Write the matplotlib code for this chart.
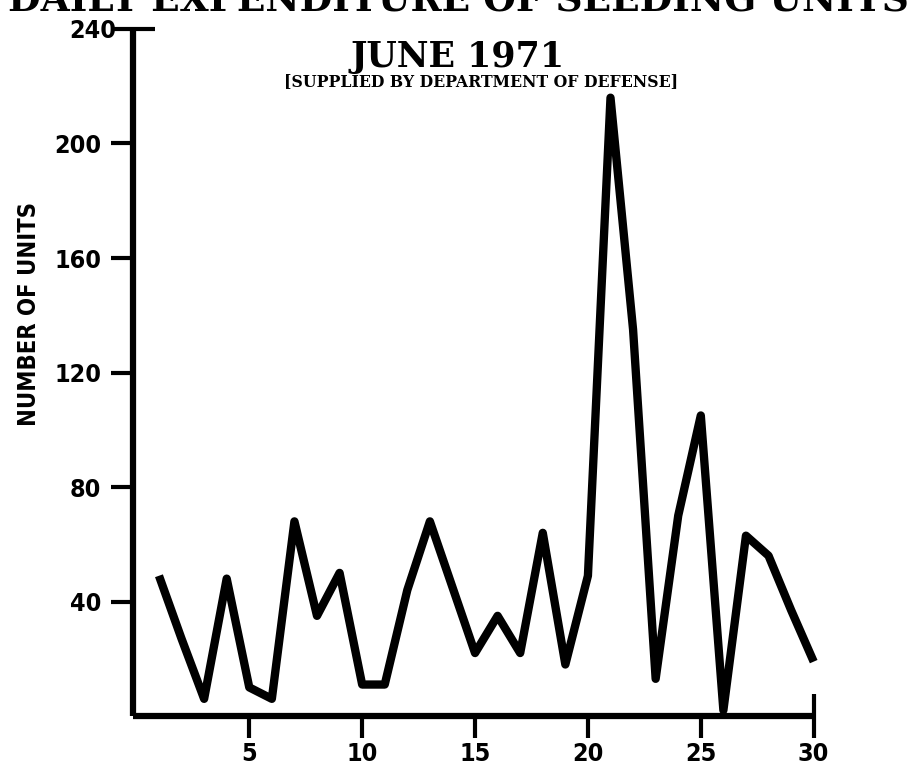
import matplotlib.pyplot as plt

days = list(range(1, 31))
units = [49, 27, 6, 48, 10, 6, 68, 35, 50, 11, 11, 44, 68, 45, 22,
         35, 22, 64, 18, 49, 216, 135, 13, 70, 105, 2, 63, 56, 37, 19]

xticks = [5, 10, 15, 20, 25]
yticks = [40, 80, 120, 160, 200]

tick_font = ["DejaVu Sans"]
head_font = ["DejaVu Serif"]

fig = plt.figure(figsize=(9.16, 7.71), dpi=100)
ax = fig.add_axes([0.1452, 0.0713, 0.7468, 0.8911])

ax.plot(days, units, color="black", lw=6, solid_joinstyle="round",
        solid_capstyle="butt", clip_on=False)

ax.set_xlim(-0.15, 30.15)
ax.set_ylim(0, 240)

for s in ["top", "right"]:
    ax.spines[s].set_visible(False)
for s in ["left", "bottom"]:
    ax.spines[s].set_linewidth(4.5)
    ax.spines[s].set_capstyle("butt")
ax.spines["bottom"].set_bounds(-0.15, 30)

ax.set_xticks(xticks)
ax.set_xticklabels([str(t) for t in xticks])
ax.set_xticks([30], minor=True)
ax.set_xticklabels(["30"], minor=True)
ax.set_yticks(yticks)
ax.set_yticklabels([str(t) for t in yticks])
ax.set_yticks([240], minor=True)
ax.set_yticklabels(["240"], minor=True)

ax.tick_params(axis="both", which="major", direction="out", length=16,
               width=3, color="black")
ax.tick_params(axis="both", which="minor", direction="inout", length=32,
               width=3, color="black")
ax.tick_params(axis="x", which="both", pad=3)
ax.tick_params(axis="y", which="major", pad=7)
ax.tick_params(axis="y", which="minor", pad=-4)

for lab in ax.get_xticklabels(which="both") + ax.get_yticklabels(which="both"):
    lab.set_family(tick_font)
    lab.set_stretch("condensed")
    lab.set_fontweight("bold")
    lab.set_fontsize(18)

ax.set_ylabel("NUMBER OF UNITS", family=tick_font, stretch="condensed",
              fontweight="bold", fontsize=17)
ax.yaxis.set_label_coords(-0.135, 0.585)

fig.text(0.5, 1 - 11 / 771, "DAILY EXPENDITURE OF SEEDING UNITS",
         family=head_font, fontweight="bold", fontsize=27,
         ha="center", va="baseline")
fig.text(458 / 916, 1 - 67 / 771, "JUNE 1971", family=head_font,
         fontweight="bold", fontsize=25, ha="center", va="baseline")
fig.text(481 / 916, 1 - 86 / 771, "[SUPPLIED BY DEPARTMENT OF DEFENSE]",
         family=head_font, fontweight="bold", fontsize=11.3,
         ha="center", va="baseline")

fig.savefig("out.png", dpi=100)
